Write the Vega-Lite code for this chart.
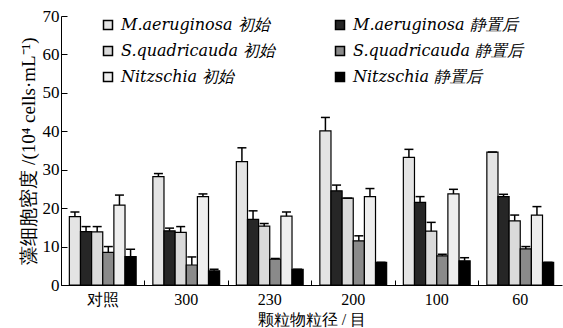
{
  "$schema": "https://vega.github.io/schema/vega-lite/v6.json",
  "width": 501,
  "height": 269,
  "autosize": {"type": "none"},
  "padding": {"left": 61, "top": 16, "right": 1, "bottom": 43},
  "background": "white",
  "config": {
    "view": {"stroke": null},
    "font": "Liberation Serif",
    "axis": {"domainColor": "black", "tickColor": "black", "labelColor": "black", "titleColor": "black", "grid": false, "labelFont": "Liberation Serif", "titleFont": "Liberation Serif", "titleFontWeight": "normal"},
    "legend": {"labelFont": "DejaVu Serif"}
  },
  "data": {
    "values": [
      {"size": "对照", "series": "M.aeruginosa 初始", "value": 17.8, "upper": 19.0},
      {"size": "对照", "series": "M.aeruginosa 静置后", "value": 13.9, "upper": 15.2},
      {"size": "对照", "series": "S.quadricauda 初始", "value": 13.8, "upper": 15.2},
      {"size": "对照", "series": "S.quadricauda 静置后", "value": 8.5, "upper": 10.0},
      {"size": "对照", "series": "Nitzschia 初始", "value": 20.8, "upper": 23.4},
      {"size": "对照", "series": "Nitzschia 静置后", "value": 7.4, "upper": 9.3},
      {"size": "300", "series": "M.aeruginosa 初始", "value": 28.2, "upper": 29.0},
      {"size": "300", "series": "M.aeruginosa 静置后", "value": 14.1, "upper": 14.8},
      {"size": "300", "series": "S.quadricauda 初始", "value": 13.7, "upper": 15.2},
      {"size": "300", "series": "S.quadricauda 静置后", "value": 5.2, "upper": 7.3},
      {"size": "300", "series": "Nitzschia 初始", "value": 23.0, "upper": 23.7},
      {"size": "300", "series": "Nitzschia 静置后", "value": 3.7, "upper": 4.1},
      {"size": "230", "series": "M.aeruginosa 初始", "value": 32.1, "upper": 35.7},
      {"size": "230", "series": "M.aeruginosa 静置后", "value": 17.1, "upper": 19.3},
      {"size": "230", "series": "S.quadricauda 初始", "value": 15.3, "upper": 16.0},
      {"size": "230", "series": "S.quadricauda 静置后", "value": 6.7, "upper": 6.9},
      {"size": "230", "series": "Nitzschia 初始", "value": 17.9, "upper": 19.0},
      {"size": "230", "series": "Nitzschia 静置后", "value": 4.1, "upper": 4.1},
      {"size": "200", "series": "M.aeruginosa 初始", "value": 40.1, "upper": 43.6},
      {"size": "200", "series": "M.aeruginosa 静置后", "value": 24.5, "upper": 26.0},
      {"size": "200", "series": "S.quadricauda 初始", "value": 22.6, "upper": 22.6},
      {"size": "200", "series": "S.quadricauda 静置后", "value": 11.5, "upper": 12.8},
      {"size": "200", "series": "Nitzschia 初始", "value": 23.0, "upper": 25.1},
      {"size": "200", "series": "Nitzschia 静置后", "value": 5.9, "upper": 5.9},
      {"size": "100", "series": "M.aeruginosa 初始", "value": 33.2, "upper": 35.3},
      {"size": "100", "series": "M.aeruginosa 静置后", "value": 21.5, "upper": 23.0},
      {"size": "100", "series": "S.quadricauda 初始", "value": 14.0, "upper": 16.3},
      {"size": "100", "series": "S.quadricauda 静置后", "value": 7.6, "upper": 8.0},
      {"size": "100", "series": "Nitzschia 初始", "value": 23.7, "upper": 24.9},
      {"size": "100", "series": "Nitzschia 静置后", "value": 6.3, "upper": 7.1},
      {"size": "60", "series": "M.aeruginosa 初始", "value": 34.6, "upper": 34.6},
      {"size": "60", "series": "M.aeruginosa 静置后", "value": 23.0, "upper": 23.6},
      {"size": "60", "series": "S.quadricauda 初始", "value": 16.7, "upper": 18.2},
      {"size": "60", "series": "S.quadricauda 静置后", "value": 9.4, "upper": 10.0},
      {"size": "60", "series": "Nitzschia 初始", "value": 18.2, "upper": 20.4},
      {"size": "60", "series": "Nitzschia 静置后", "value": 5.9, "upper": 5.9}
    ]
  },
  "encoding": {
    "x": {
      "field": "size", "type": "nominal",
      "sort": ["对照", "300", "230", "200", "100", "60"],
      "scale": {"paddingInner": 0, "paddingOuter": 0},
      "axis": {"title": "颗粒物粒径 / 目", "labelAngle": 0, "labelFontSize": 16, "titleFontSize": 16, "bandPosition": 0, "tickSize": -5, "labelPadding": 11, "titlePadding": 4, "domainWidth": 1}
    },
    "xOffset": {
      "field": "series", "type": "nominal",
      "sort": ["M.aeruginosa 初始", "M.aeruginosa 静置后", "S.quadricauda 初始", "S.quadricauda 静置后", "Nitzschia 初始", "Nitzschia 静置后"],
      "scale": {"paddingInner": 0, "paddingOuter": 0.75}
    }
  },
  "layer": [
    {
      "mark": {"type": "bar", "stroke": "black", "strokeWidth": 1.2},
      "encoding": {
        "y": {
          "field": "value", "type": "quantitative",
          "scale": {"domain": [0, 70], "nice": false},
          "axis": {"title": "藻细胞密度 /(10⁴ cells·mL⁻¹)", "values": [0, 10, 20, 30, 40, 50, 60, 70], "labelOverlap": false, "tickSize": -6, "labelFontSize": 17, "titleFontSize": 19, "labelPadding": 8, "titlePadding": 4}
        },
        "fill": {
          "field": "series", "type": "nominal",
          "sort": ["M.aeruginosa 初始", "S.quadricauda 初始", "Nitzschia 初始", "M.aeruginosa 静置后", "S.quadricauda 静置后", "Nitzschia 静置后"],
          "scale": {"range": ["#e4e4e4", "#dadada", "#eeeeee", "#262626", "#8a8a8a", "#000000"]},
          "legend": {
            "title": null, "orient": "none", "legendX": 39, "legendY": 1, "columns": 2, "columnPadding": 56, "rowPadding": 10,
            "symbolType": "square", "symbolSize": 81, "symbolStrokeColor": "black", "symbolStrokeWidth": 1.5, "symbolOpacity": 1,
            "labelFont": "DejaVu Serif", "labelFontSize": 16, "labelFontStyle": "italic", "labelLimit": 400, "labelColor": "black", "labelOffset": 5, "padding": 0
          }
        }
      }
    },
    {
      "mark": {"type": "rule", "stroke": "black", "strokeWidth": 1.5},
      "encoding": {
        "y": {"field": "value", "type": "quantitative", "axis": {"title": "藻细胞密度 /(10⁴ cells·mL⁻¹)", "values": [0, 10, 20, 30, 40, 50, 60, 70], "labelOverlap": false, "tickSize": -6, "labelFontSize": 17, "titleFontSize": 19, "labelPadding": 8, "titlePadding": 4}},
        "y2": {"field": "upper"}
      }
    },
    {
      "mark": {"type": "tick", "color": "black", "thickness": 1.5, "size": 9, "opacity": 1},
      "encoding": {
        "y": {"field": "upper", "type": "quantitative", "axis": {"title": "藻细胞密度 /(10⁴ cells·mL⁻¹)", "values": [0, 10, 20, 30, 40, 50, 60, 70], "labelOverlap": false, "tickSize": -6, "labelFontSize": 17, "titleFontSize": 19, "labelPadding": 8, "titlePadding": 4}}
      }
    }
  ]
}
